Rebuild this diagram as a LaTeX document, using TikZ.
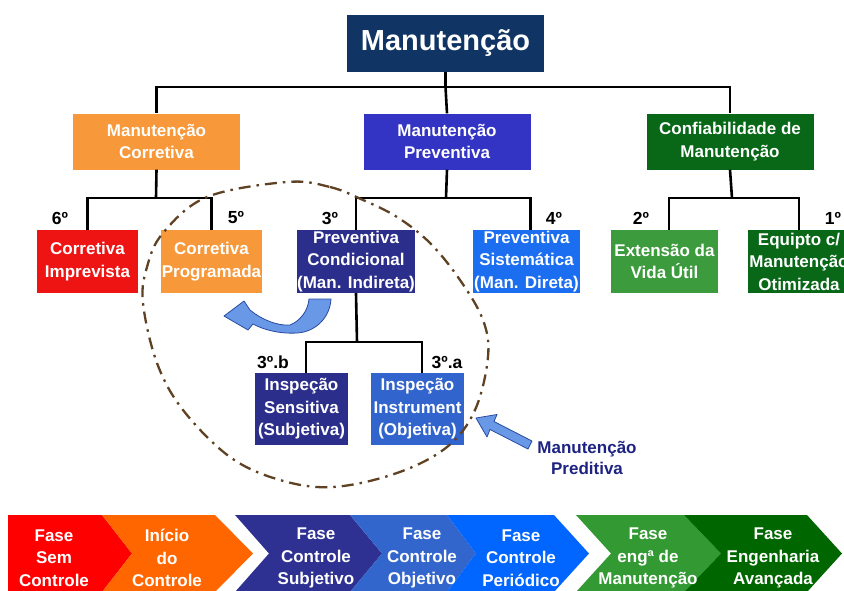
\documentclass[tikz,border=0pt]{standalone}
\usepackage{fontspec}
\setmainfont{Liberation Sans}
\usetikzlibrary{calc}
\definecolor{navy}{RGB}{16,52,99}
\definecolor{corrOrange}{RGB}{247,152,58}
\definecolor{prevBlue}{RGB}{52,52,196}
\definecolor{confGreen}{RGB}{8,104,24}
\definecolor{impRed}{RGB}{238,20,20}
\definecolor{condBlue}{RGB}{44,46,140}
\definecolor{sistBlue}{RGB}{28,110,240}
\definecolor{extGreen}{RGB}{60,155,60}
\definecolor{instrBlue}{RGB}{50,100,205}
\definecolor{preditText}{RGB}{30,35,130}
\definecolor{arrowFill}{RGB}{105,152,230}
\definecolor{arrowLine}{RGB}{40,75,160}
\definecolor{ellBrown}{RGB}{95,65,35}
\definecolor{barRed}{RGB}{255,0,0}
\definecolor{barOrange}{RGB}{255,102,0}
\definecolor{barDark}{RGB}{46,49,146}
\definecolor{barMid}{RGB}{51,102,204}
\definecolor{barBright}{RGB}{0,102,255}
\definecolor{barGreen}{RGB}{51,153,51}
\definecolor{barDkGreen}{RGB}{0,102,0}
\begin{document}
\begin{tikzpicture}[x=1pt,y=-1pt,
  box/.style={rectangle, inner sep=0pt, align=center, text=white,
    font=\bfseries\fontsize{17}{22.5}\selectfont},
  conn/.style={line width=2.6pt, black},
  lbl/.style={font=\bfseries\fontsize{17.5}{20}\selectfont, text=black, inner sep=0pt},
  bartext/.style={font=\bfseries\fontsize{17}{22.5}\selectfont, text=white, align=center, inner sep=0pt},
  ell/.style={draw=ellBrown, line width=2.3pt, dash pattern=on 12pt off 6pt on 2.5pt off 6pt},
  blockarrow/.style={fill=arrowFill, draw=arrowLine, line width=0.8pt, line join=round}]
\useasboundingbox (0,0) rectangle (844,590);
\clip (0,0) rectangle (844,590);

% level 1
\node[box, fill=navy, minimum width=197pt, minimum height=57pt,
  font=\bfseries\fontsize{29}{32}\selectfont] (title) at (445.5,43.5) {Manutenção};

% level 2
\node[box, fill=corrOrange, minimum width=167pt, minimum height=56pt] (corr) at (156.5,141.5) {Manutenção\\Corretiva};
\node[box, fill=prevBlue, minimum width=167pt, minimum height=56pt] (prev) at (447,141.5) {Manutenção\\Preventiva};
\node[box, fill=confGreen, minimum width=167pt, minimum height=56pt] (conf) at (730,141.5) {Confiabilidade de\\Manutenção};

% level 3
\node[box, fill=impRed, minimum width=101pt, minimum height=63pt] (imp) at (87.5,261.5) {Corretiva\\Imprevista};
\node[box, fill=corrOrange, minimum width=101pt, minimum height=63pt] (prog) at (211.5,261.5) {Corretiva\\Programada};
\node[box, fill=condBlue, minimum width=116pt, minimum height=63pt] (cond) at (356,261.5) {Preventiva\\Condicional\\(Man. Indireta)};
\node[box, fill=sistBlue, minimum width=107pt, minimum height=63pt] (sist) at (526.5,261.5) {Preventiva\\Sistemática\\(Man. Direta)};
\node[box, fill=extGreen, minimum width=107pt, minimum height=63pt] (ext) at (664.5,261.5) {Extensão da\\Vida Útil};
\node[box, fill=confGreen, minimum width=102pt, minimum height=63pt] (equ) at (799,261.5) {Equipto c/\\Manutenção\\Otimizada};

% level 4
\node[box, fill=condBlue, minimum width=93pt, minimum height=72pt] (sens) at (301.5,409) {Inspeção\\Sensitiva\\(Subjetiva)};
\node[box, fill=instrBlue, minimum width=93pt, minimum height=72pt] (instr) at (417.5,409) {Inspeção\\Instrument\\(Objetiva)};

% bus coordinates
\coordinate (b0) at (445.5,87);
\coordinate (b1) at (156,198);
\coordinate (b2) at (446,198);
\coordinate (b3) at (732,198);
\coordinate (b4) at (357,342);

% connectors
\draw[conn] (title.south) -- (b0);
\draw[conn] (corr.north) |- (b0) -| (conf.north);
\draw[conn] (b0) -- (prev.north);
\draw[conn] (corr.south) -- (b1);
\draw[conn] (imp.north) |- (b1) -| (prog.north);
\draw[conn] (prev.south) -- (b2);
\draw[conn] (cond.north) |- (b2) -| ([xshift=4pt]sist.north);
\draw[conn] (conf.south) -- (b3);
\draw[conn] ([xshift=4.5pt]ext.north) |- (b3) -| (equ.north);
\draw[conn] (cond.south) -- (b4);
\draw[conn] ([xshift=4.5pt]sens.north) |- (b4) -| ([xshift=4.5pt]instr.north);

% ordinal labels
\node[lbl] (l6) at (60,218) {6º};
\node[lbl] (l5) at (236,218) {5º};
\node[lbl] (l3) at (330,218) {3º};
\node[lbl] (l4) at (554,218) {4º};
\node[lbl] (l2) at (641,218) {2º};
\node[lbl] (l1) at (833,218) {1º};
\node[lbl] (l3b) at (273,362) {3º.b};
\node[lbl] (l3a) at (447,362) {3º.a};

% dash-dot ellipse
\draw[ell] plot[smooth cycle, tension=0.6] coordinates {(287,182) (330,187) (363,200) (397,217) (430,243) (460,280) (483,320) (488,357) (475,410) (447,447) (397,473) (333,487) (280,480) (230,457) (183,410) (157,363) (143,303) (147,267) (163,233) (207,197)};

% curved arrow
\path[blockarrow] (224,316) -- (244,301) -- (250,310)
  .. controls (262,320) and (278,326) .. (290,325)
  .. controls (300,321) and (308,311) .. (309,299)
  -- (331,299)
  .. controls (330,318) and (315,332) .. (297,333)
  .. controls (280,334) and (264,330) .. (253,324)
  -- (248,330) -- cycle;

% predictive arrow
\path[blockarrow] (476,418) -- (497,414.5) -- (494,421.5) -- (532,441) -- (528,449) -- (490,429.5) -- (487,437) -- cycle;
\node[font=\bfseries\fontsize{17}{20.5}\selectfont, text=preditText, align=center, inner sep=0pt] (predit) at (587,458) {Manutenção\\Preditiva};

% bottom phase bar
\fill[barRed] (8,515) -- (102,515) -- (132,553.5) -- (102,592) -- (8,592) -- cycle;
\fill[barOrange] (102,515) -- (215,515) -- (253,553.5) -- (215,592) -- (102,592) -- (132,553.5) -- cycle;
\fill[barDark] (235,515) -- (350,515) -- (382,553.5) -- (350,592) -- (235,592) -- (269,553.5) -- cycle;
\fill[barMid] (350,515) -- (447,515) -- (476,553.5) -- (447,592) -- (350,592) -- (382,553.5) -- cycle;
\fill[barBright] (447,515) -- (554,515) -- (589,553.5) -- (554,592) -- (447,592) -- (476,553.5) -- cycle;
\fill[barGreen] (576,515) -- (684,515) -- (721,553.5) -- (684,592) -- (576,592) -- (611,553.5) -- cycle;
\fill[barDkGreen] (684,515) -- (807,515) -- (842,553.5) -- (807,592) -- (684,592) -- (721,553.5) -- cycle;

\node[bartext] (p1) at (54,558) {Fase\\Sem\\Controle};
\node[bartext] (p2) at (167,558) {Início\\do\\Controle};
\node[bartext] (p3) at (316,558) {Fase\\Controle\\Subjetivo};
\node[bartext] (p4) at (422,558) {Fase\\Controle\\Objetivo};
\node[bartext] (p5) at (521,558) {Fase\\Controle\\Periódico};
\node[bartext] (p6) at (648,558) {Fase\\engª de\\Manutenção};
\node[bartext] (p7) at (773,558) {Fase\\Engenharia\\Avançada};
\end{tikzpicture}
\end{document}
